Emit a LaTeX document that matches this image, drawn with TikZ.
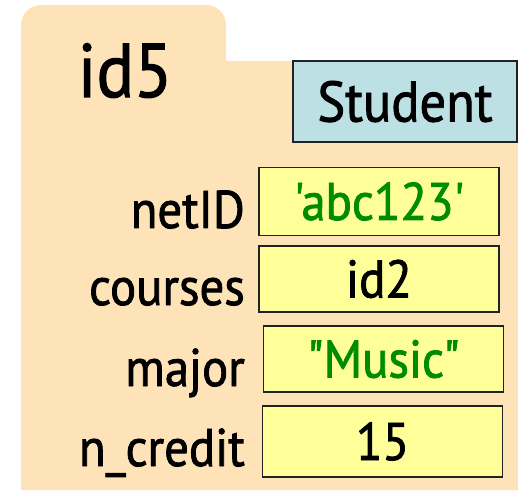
\documentclass[tikz,border=0pt]{standalone}
\usepackage{fontspec}
\setmainfont{PT Sans}[FakeStretch=0.92, FakeBold=1.5, Ligatures=TeXOff]
\definecolor{fldorange}{HTML}{FFE3B8}
\definecolor{clsblue}{HTML}{BCE0E4}
\definecolor{valyellow}{HTML}{FFFF99}
\definecolor{strgreen}{HTML}{008C00}
\definecolor{boxline}{HTML}{222222}

\begin{document}
\begin{tikzpicture}[
  x=1pt, y=1pt,
  every node/.style={font=\fontsize{53}{60}\selectfont, inner sep=0pt},
  valbox/.style={rectangle, draw=boxline, fill=valyellow, line width=1.5pt, minimum width=240pt, minimum height=68pt, text height=37pt, text depth=0pt},
  clsbox/.style={rectangle, draw=boxline, fill=clsblue, line width=1.5pt, minimum width=224pt, minimum height=81pt, text height=40pt, text depth=0pt, font=\fontsize{57}{64}\selectfont},
  attrlabel/.style={anchor=base east},
]
\useasboundingbox (0,0) rectangle (518,490);

% Folder
\fill[fldorange] (21,0) -- (21,465) arc[start angle=180, end angle=90, radius=20]
  -- (206,485) arc[start angle=90, end angle=0, radius=20]
  -- (226,429) -- (518,429) -- (518,0) -- cycle;

\node[anchor=base, font=\fontsize{76}{80}\selectfont] (objid) at (125,393) {id5};
\node[clsbox] (cls) at (405,388.5) {Student};

% Attribute values
\node[valbox] (netid) at (379,288.5) {\textcolor{strgreen}{'abc123'}};
\node[valbox, minimum height=66pt] (courses) at (379,211) {id2};
\node[valbox, minimum height=66pt] (major) at (383.5,131) {\textcolor{strgreen}{"Music"}};
\node[valbox, minimum height=71pt] (ncredit) at (382.5,48.5) {15};

% Attribute names
\node[attrlabel] (netidlbl) at (245,262) {netID};
\node[attrlabel] (courseslbl) at (245,185) {courses};
\node[attrlabel] (majorlbl) at (245,104) {major};
\node[attrlabel] (ncreditlbl) at (245,24) {n\_credit};

\end{tikzpicture}
\end{document}
